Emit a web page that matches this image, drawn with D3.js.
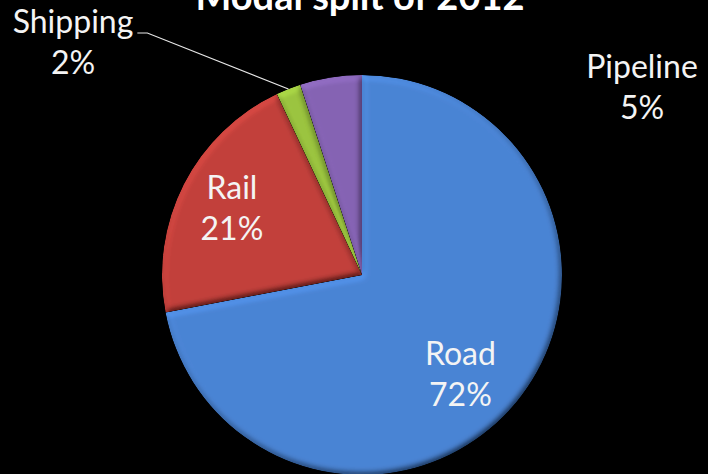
<!DOCTYPE html>
<html>
<head>
<meta charset="utf-8">
<script src="https://cdn.jsdelivr.net/npm/d3@7"></script>
<style>
  html, body { margin: 0; padding: 0; background: #000; }
  svg { display: block; }
</style>
</head>
<body>
<svg id="chart" width="708" height="474"></svg>
<script>
// Modal split of freight transport, 2012 (share in percent)
const categories = ["Road", "Rail", "Shipping", "Pipeline"];
const shares = [72, 21, 2, 5];
const sliceColors = ["#4A84D4", "#C2403B", "#9BC43F", "#8563B3"];
const titleText = "Modal split of 2012";

// layout
const W = 708, H = 474;
const cx = 362, cy = 275, radius = 200;
const fontFamily = "Lato, 'Open Sans', sans-serif";
// label placement: inside labels sit on the slice at a fraction of the radius,
// outside labels sit at fixed anchors beside the pie
const labelLayout = {
  Road:     { inside: true, r: 0.71, dx: -11, dy: 9 },
  Rail:     { inside: true, r: 0.73, dx: 0, dy: 0 },
  Shipping: { inside: false, x: 73, y: 33, leader: true },
  Pipeline: { inside: false, x: 642, y: 78, leader: false }
};

const svg = d3.select("#chart");
svg.append("rect").attr("width", W).attr("height", H).attr("fill", "#000");

// bevel filter: light the blurred alpha as a bump map and modulate the fill
const defs = svg.append("defs");
const bevel = defs.append("filter").attr("id", "bevel")
  .attr("x", "-5%").attr("y", "-5%").attr("width", "110%").attr("height", "110%");
bevel.append("feGaussianBlur").attr("in", "SourceAlpha").attr("stdDeviation", 3).attr("result", "blur");
const diff = bevel.append("feDiffuseLighting").attr("in", "blur")
  .attr("surfaceScale", 4).attr("diffuseConstant", 1).attr("lighting-color", "#fff").attr("result", "light");
diff.append("feDistantLight").attr("azimuth", 235).attr("elevation", 55);
bevel.append("feComposite").attr("in", "SourceGraphic").attr("in2", "light")
  .attr("operator", "arithmetic").attr("k1", 1 / Math.sin(55 * Math.PI / 180))
  .attr("k2", 0).attr("k3", 0).attr("k4", 0).attr("result", "lit");
bevel.append("feComposite").attr("in", "lit").attr("in2", "SourceAlpha").attr("operator", "in");

const color = d3.scaleOrdinal().domain(categories).range(sliceColors);
const pie = d3.pie().sort(null).value(d => d.value).startAngle(0).endAngle(2 * Math.PI);
const data = categories.map((c, i) => ({ name: c, value: shares[i] }));
const arcs = pie(data);
const arc = d3.arc().innerRadius(0).outerRadius(radius);

const g = svg.append("g").attr("transform", `translate(${cx},${cy})`);
g.selectAll("path.slice")
  .data(arcs)
  .join("path")
  .attr("class", "slice")
  .attr("d", arc)
  .attr("fill", d => color(d.data.name))
  .attr("filter", "url(#bevel)");

// title (runs off the top edge of the frame)
svg.append("text")
  .attr("x", 360).attr("y", 10)
  .attr("text-anchor", "middle")
  .attr("font-family", fontFamily)
  .attr("font-weight", "bold")
  .attr("font-size", 38)
  .attr("fill", "#fff")
  .text(titleText);

// labels
const lineGap = 41;
arcs.forEach(d => {
  const L = labelLayout[d.data.name];
  let x, y;
  if (L.inside) {
    const a = d3.arc().innerRadius(radius * L.r).outerRadius(radius * L.r);
    const [px, py] = a.centroid(d);
    x = cx + px + L.dx;
    y = cy + py + L.dy - 10;
  } else {
    x = L.x; y = L.y;
  }
  const t = svg.append("text")
    .attr("text-anchor", "middle")
    .attr("font-family", fontFamily)
    .attr("font-size", 32)
    .attr("fill", "#f4f4f4");
  t.append("tspan").attr("x", x).attr("y", y).text(d.data.name);
  t.append("tspan").attr("x", x).attr("y", y + lineGap).text(d.data.value + "%");

  if (L.leader) {
    const w = t.select("tspan").node().getComputedTextLength();
    const sx = x + w / 2 + 4;
    const mid = (d.startAngle + d.endAngle) / 2;
    const ex = cx + radius * Math.sin(mid);
    const ey = cy - radius * Math.cos(mid);
    svg.append("path")
      .attr("d", d3.line()([[sx, y], [sx + 10, y], [ex, ey]]))
      .attr("fill", "none")
      .attr("stroke", "#e8e8e8")
      .attr("stroke-width", 1.2);
  }
});
</script>
</body>
</html>
